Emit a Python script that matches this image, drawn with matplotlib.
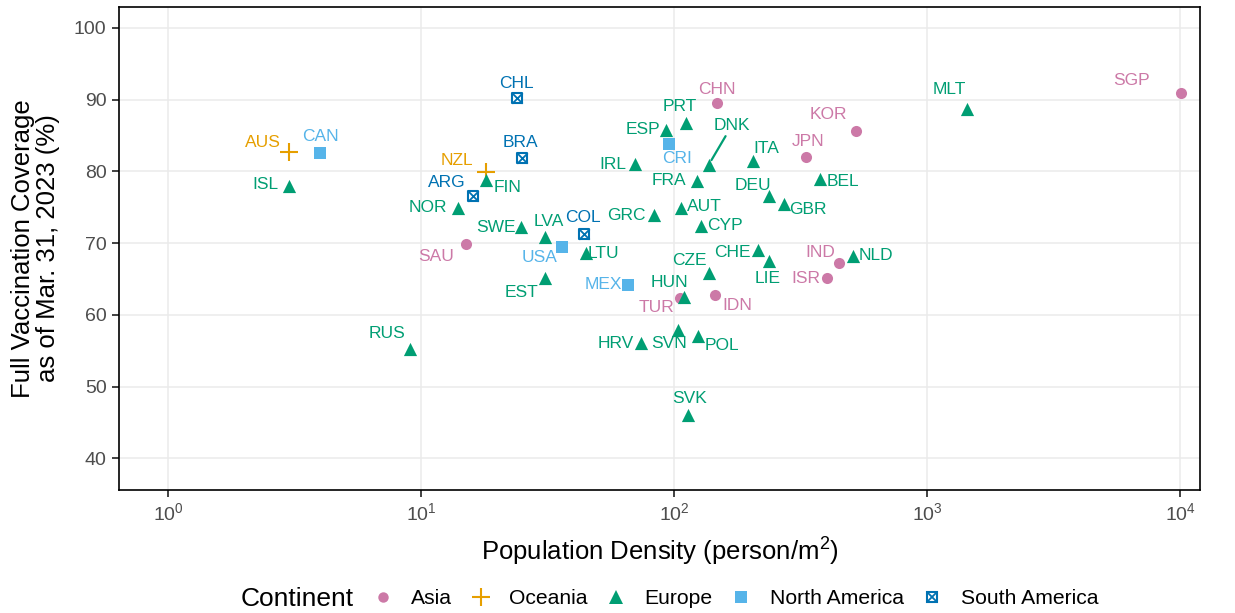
import matplotlib
matplotlib.use("Agg")
import matplotlib.pyplot as plt
from matplotlib.lines import Line2D
from matplotlib.legend_handler import HandlerTuple

plt.rcParams['font.family'] = ['Liberation Sans', 'DejaVu Sans']
plt.rcParams['mathtext.fontset'] = 'custom'
plt.rcParams['mathtext.rm'] = 'Liberation Sans'
plt.rcParams['mathtext.it'] = 'Liberation Sans:italic'

# ---------------- data ----------------
asia_codes = ['SGP', 'CHN', 'KOR', 'JPN', 'IND', 'ISR', 'IDN', 'TUR', 'SAU']
asia_density = [10100, 148, 525, 332, 449, 402, 145, 106, 15.1]
asia_cov = [90.9, 89.5, 85.6, 82.0, 67.2, 65.1, 62.8, 62.3, 69.9]

oce_codes = ['AUS', 'NZL']
oce_density = [3.0, 18.1]
oce_cov = [82.7, 79.9]

eur_codes = ['MLT', 'PRT', 'ESP', 'DNK', 'ITA', 'IRL', 'FRA', 'BEL', 'ISL', 'FIN',
             'DEU', 'GBR', 'NOR', 'AUT', 'GRC', 'SWE', 'CYP', 'LVA', 'CHE', 'LTU',
             'NLD', 'LIE', 'CZE', 'EST', 'HUN', 'SVK', 'RUS', 'HRV', 'SVN', 'POL']
eur_density = [1440, 111, 93, 137, 205, 70, 123, 377, 3.0, 18.1,
               237, 272, 14.0, 107, 83, 24.8, 128, 31, 215, 45,
               510, 237, 137, 31, 109, 114, 9.05, 74, 104, 124.5]
eur_cov = [88.7, 86.8, 85.8, 80.9, 81.4, 81.0, 78.7, 78.9, 78.0, 78.8,
           76.6, 75.5, 74.9, 74.9, 73.9, 72.3, 72.4, 70.9, 69.0, 68.6,
           68.2, 67.5, 65.8, 65.1, 62.5, 46.0, 55.2, 56.1, 57.9, 57.0]

nam_codes = ['CAN', 'CRI', 'USA', 'MEX']
nam_density = [4.0, 95.6, 36, 65.8]
nam_cov = [82.6, 83.8, 69.5, 64.2]

sam_codes = ['CHL', 'BRA', 'ARG', 'COL']
sam_density = [23.9, 25, 16.1, 44]
sam_cov = [90.2, 81.9, 76.6, 71.3]

# ---------------- label offsets (pixels, image coords: +x right, +y down) ----------------
label_offsets = {
    'SGP': (-50, -13), 'CHN': (0, -14), 'KOR': (-28, -17), 'JPN': (2, -15),
    'IND': (-19, -11), 'ISR': (-21, 0), 'IDN': (22, 11), 'TUR': (-24, 9),
    'SAU': (-30, 13), 'AUS': (-26, -9), 'NZL': (-29, -12), 'CAN': (0, -16),
    'CRI': (8, 14), 'USA': (-22, 11), 'MEX': (-25, 0), 'CHL': (0, -15),
    'BRA': (-1, -15), 'ARG': (-27, -13), 'COL': (-1, -16), 'MLT': (-18, -19),
    'PRT': (-6, -16), 'ESP': (-23, 0), 'DNK': (23, -39), 'ITA': (13, -13),
    'IRL': (-22, 0), 'FRA': (-28, 0), 'BEL': (23, 2), 'ISL': (-23, -1),
    'FIN': (21, 8), 'DEU': (-16, -10), 'GBR': (24, 6), 'NOR': (-30, 0),
    'AUT': (23, -1), 'GRC': (-27, 0), 'SWE': (-25, 1), 'CYP': (24, 0),
    'LVA': (3, -15), 'CHE': (-26, 2), 'LTU': (17, 0), 'NLD': (23, -1),
    'LIE': (-1, 17), 'CZE': (-19, -13), 'EST': (-24, 14), 'HUN': (-14, -14),
    'SVK': (1, -17), 'RUS': (-23, -16), 'HRV': (-25, 1), 'SVN': (-9, 14),
    'POL': (24, 9),
}
segment_labels = ['DNK']

# ---------------- styles ----------------
c_asia = '#CC79A7'
c_oce = '#E69F00'
c_eur = '#009E73'
c_nam = '#56B4E9'
c_sam = '#0072B2'

fig = plt.figure(figsize=(12.35, 6.13), dpi=100)
ax = fig.add_axes([119 / 1235, 1 - 490 / 613, (1200 - 119) / 1235, (490 - 7) / 613])

ax.set_xscale('log')
ax.set_xlim(10 ** -0.194, 10 ** 4.079)
ax.set_ylim(35.6, 102.9)

ax.grid(True, which='major', color='#EBEBEB', lw=1.1, zorder=0)
ax.grid(False, which='minor')
ax.set_axisbelow(True)
ax.minorticks_off()

ax.scatter(asia_density, asia_cov, marker='o', s=8.0 ** 2, color=c_asia, lw=0, zorder=3)
ax.scatter(oce_density, oce_cov, marker='+', s=12.5 ** 2, color=c_oce, lw=1.5, zorder=3)
ax.scatter(eur_density, eur_cov, marker='^', s=9.5 ** 2, color=c_eur, lw=0, zorder=3)
ax.scatter(nam_density, nam_cov, marker='s', s=8.0 ** 2, color=c_nam, lw=0, zorder=3)
ax.scatter(sam_density, sam_cov, marker='s', s=7.5 ** 2, facecolor='white',
           edgecolor=c_sam, lw=1.5, zorder=3)
ax.scatter(sam_density, sam_cov, marker='x', s=7.5 ** 2, color=c_sam, lw=1.3, zorder=4)

groups = [
    (asia_codes, asia_density, asia_cov, c_asia),
    (oce_codes, oce_density, oce_cov, c_oce),
    (eur_codes, eur_density, eur_cov, c_eur),
    (nam_codes, nam_density, nam_cov, c_nam),
    (sam_codes, sam_density, sam_cov, c_sam),
]
for codes, xs, ys, col in groups:
    for code, xv, yv in zip(codes, xs, ys):
        dx, dy = label_offsets[code]
        kw = {}
        if code in segment_labels:
            kw['arrowprops'] = dict(arrowstyle='-', color=col, lw=1.6,
                                    shrinkA=0, shrinkB=4)
        ax.annotate(code, xy=(xv, yv), xytext=(dx, -dy), textcoords='offset pixels',
                    ha='center', va='center', color=col, fontsize=12.5, zorder=5, **kw)

# axes styling
for sp in ax.spines.values():
    sp.set_color('black')
    sp.set_linewidth(1.2)
ax.set_yticks([40, 50, 60, 70, 80, 90, 100])
ax.set_xticks([1, 10, 100, 1000, 10000])
ax.tick_params(axis='both', which='major', length=5, width=1.3, color='#333333',
               labelcolor='#4D4D4D', labelsize=14, pad=4)

ax.set_xlabel('Population Density (person/m$^2$)', fontsize=18.5, labelpad=8)
ax.set_ylabel('Full Vaccination Coverage\nas of Mar. 31, 2023 (%)', fontsize=18.5,
              labelpad=10, linespacing=1.05)

# legend
fig.text(241 / 1235, 14 / 613, 'Continent', fontsize=19, ha='left', va='center')
handles = [
    Line2D([], [], marker='o', ls='none', color=c_asia, markersize=7.5, mew=0),
    Line2D([], [], marker='+', ls='none', color=c_oce, markersize=12.5, mew=1.5),
    Line2D([], [], marker='^', ls='none', color=c_eur, markersize=9.5, mew=0),
    Line2D([], [], marker='s', ls='none', color=c_nam, markersize=8, mew=0),
    (Line2D([], [], marker='s', ls='none', mfc='white', mec=c_sam, markersize=7.5, mew=1.5),
     Line2D([], [], marker='x', ls='none', color=c_sam, markersize=7.5, mew=1.3)),
]
labels = ['Asia', 'Oceania', 'Europe', 'North America', 'South America']
fig.legend(handles, labels, loc='center left', bbox_to_anchor=(371 / 1235, 14 / 613),
           ncol=5, frameon=False, fontsize=15.2, handlelength=1.1, handletextpad=0.8,
           columnspacing=0.8, borderpad=0, borderaxespad=0,
           handler_map={tuple: HandlerTuple(ndivide=1, pad=0)})

fig.savefig('out.png', dpi=100, facecolor='white')
